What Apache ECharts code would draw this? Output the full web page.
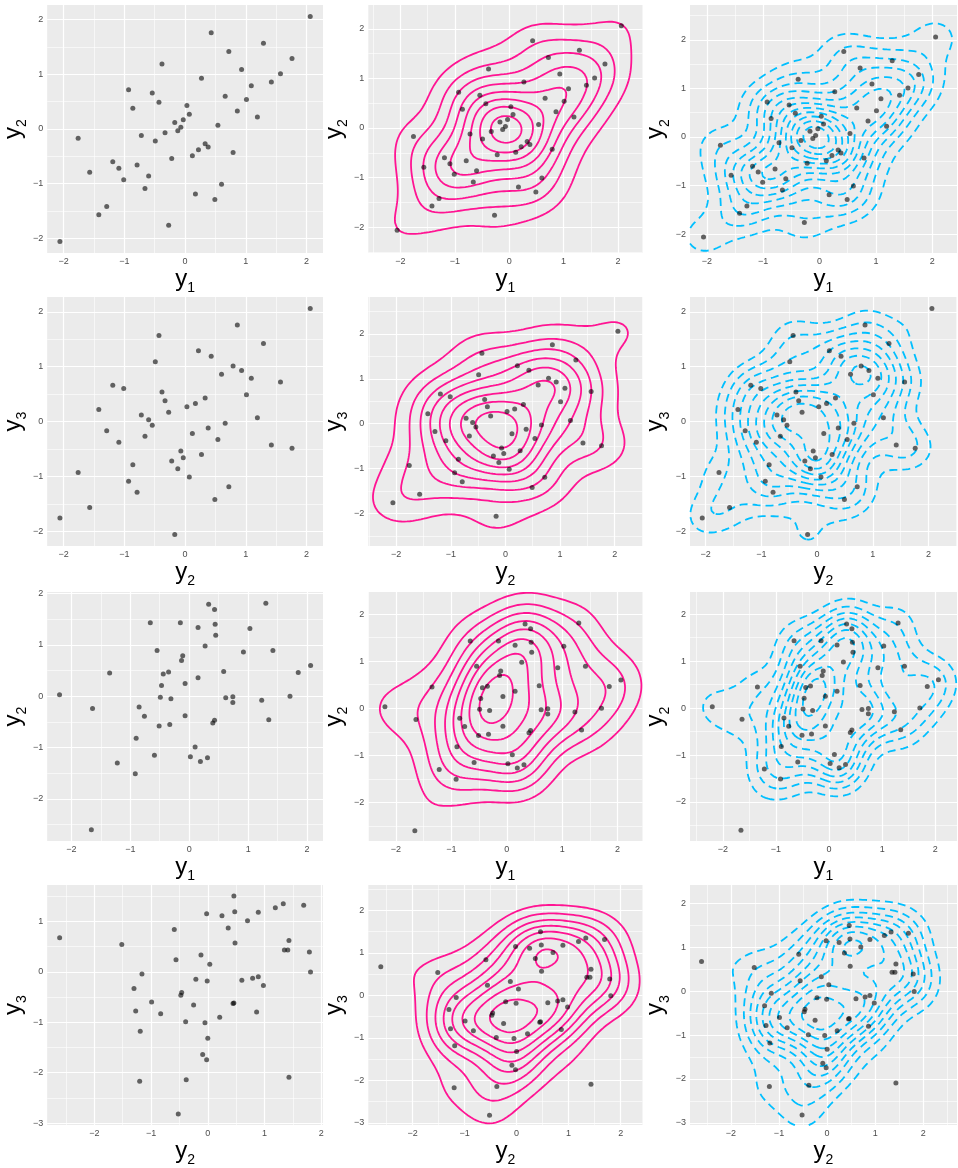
<!DOCTYPE html>
<html><head><meta charset="utf-8">
<script src="https://cdn.jsdelivr.net/npm/echarts@6/dist/echarts.min.js"></script>
<style>html,body{margin:0;padding:0;background:#fff}#c{width:958px;height:1168px}</style>
</head><body><div id="c"></div>
<script>
// ---- data ----
// row 1: normal scores, y1 vs y2
const r1x = [2.06,0.43,1.29,0.72,1.76,-0.38,0.93,1.57,0.27,1.42,1.09,-0.93,-0.54,0.66,1.01,-0.43,0.03,-0.86,0.86,0.07,1.19,-0.03,-0.17,0.54,-0.07,-0.12,-0.33,-0.72,-1.76,-0.49,0.33,0.38,0.22,0.79,0.12,-0.22,-1.19,-0.79,-1.09,-1.57,-0.60,-1.01,0.60,-0.66,0.17,-1.29,0.49,-1.42,-0.27,-2.06];
const r1y = [2.06,1.76,1.57,1.42,1.29,1.19,1.09,1.01,0.93,0.86,0.79,0.72,0.66,0.60,0.54,0.49,0.43,0.38,0.33,0.27,0.22,0.17,0.12,0.07,0.03,-0.03,-0.07,-0.12,-0.17,-0.22,-0.27,-0.33,-0.38,-0.43,-0.49,-0.54,-0.60,-0.66,-0.72,-0.79,-0.86,-0.93,-1.01,-1.09,-1.19,-1.42,-1.29,-1.57,-1.76,-2.06];
// row 2: normal scores, y2 vs y3
const r2x = [2.06,0.86,-0.43,1.29,0.22,0.43,-0.49,0.79,0.93,0.60,1.09,1.57,-1.19,-1.01,-0.38,1.01,0.33,-0.33,0.17,0.03,-1.42,-0.27,-0.72,1.19,-0.60,0.66,-0.54,0.38,-1.29,0.12,-0.66,0.54,-1.09,1.42,1.76,-0.07,0.27,-0.03,-0.22,-0.86,-0.12,-1.76,0.07,-0.93,0.72,-0.79,0.49,-1.57,-2.06,-0.17];
const r2y = [2.06,1.76,1.57,1.42,1.29,1.19,1.09,1.01,0.93,0.86,0.79,0.72,0.66,0.60,0.54,0.49,0.43,0.38,0.33,0.27,0.22,0.17,0.12,0.07,0.03,-0.03,-0.07,-0.12,-0.17,-0.22,-0.27,-0.33,-0.38,-0.43,-0.49,-0.54,-0.60,-0.66,-0.72,-0.79,-0.86,-0.93,-1.01,-1.09,-1.19,-1.29,-1.42,-1.57,-1.76,-2.06];
// row 3: raw data, y1 vs y2
const r3x = [-2.20,-1.64,-1.66,-1.35,-1.22,-0.915,-0.90,-0.85,-0.76,-0.66,-0.59,-0.545,-0.51,-0.49,-0.47,-0.44,-0.35,-0.33,-0.31,-0.15,-0.13,-0.11,-0.07,-0.07,0.02,0.10,0.15,0.15,0.19,0.27,0.31,0.33,0.40,0.43,0.43,0.44,0.45,0.585,0.62,0.74,0.74,0.92,1.03,1.23,1.30,1.35,1.42,1.71,1.85,2.06];
const r3y = [0.03,-0.24,-2.60,0.45,-1.30,-1.51,-0.82,-0.21,-0.39,1.43,-1.15,0.89,-0.58,-0.02,0.21,0.435,0.47,-0.55,-0.05,1.43,0.695,0.79,0.25,-0.38,-1.18,-0.99,0.36,1.34,-1.27,0.98,-1.20,1.79,-0.52,-0.47,1.69,1.40,1.19,0.48,-0.03,-0.12,-0.01,0.86,1.32,-0.08,1.81,-0.46,0.89,0.00,0.46,0.60];
// row 4: raw data, y2 vs y3
const r4x = [-2.61,-1.515,-1.30,-1.27,-1.19,-1.20,-1.16,-0.99,-0.83,-0.59,-0.56,-0.52,-0.475,-0.46,-0.39,-0.38,-0.25,-0.21,-0.12,-0.09,-0.05,-0.02,-0.02,-0.01,0.00,0.035,0.21,0.25,0.36,0.445,0.46,0.46,0.475,0.48,0.60,0.70,0.79,0.86,0.89,0.89,0.98,1.19,1.33,1.35,1.41,1.43,1.43,1.69,1.79,1.81];
const r4y = [0.675,0.54,-0.33,-0.78,-1.18,-2.17,-0.045,-0.60,-0.83,0.84,0.24,-2.82,-0.465,-0.41,-0.99,-2.14,-0.66,-0.15,0.33,-1.64,-1.01,1.15,-1.745,-0.185,-1.32,0.15,-0.90,1.11,0.87,-0.63,-0.62,1.50,1.19,0.57,-0.17,1.01,-0.13,-0.80,-0.10,1.18,-0.27,1.27,1.35,0.43,0.43,0.62,-2.09,1.32,0.39,-0.005];

const rowX = [r1x, r2x, r3x, r4x];
const rowY = [r1y, r2y, r3y, r4y];
const xNames = ['1','2','1','2'];
const yNames = ['2','3','2','3'];
const majorTicks = [-3,-2,-1,0,1,2];
const minorTicks = [-3.5,-2.5,-1.5,-0.5,0.5,1.5,2.5];

// axis limits per panel [row][col]
const xLims = [
  [[-2.27,2.27],[-2.59,2.45],[-2.30,2.44]],
  [[-2.27,2.27],[-2.51,2.51],[-2.28,2.51]],
  [[-2.41,2.27],[-2.50,2.45],[-2.62,2.41]],
  [[-2.83,2.03],[-2.85,2.42],[-2.85,2.70]]
];
const yLims = [
  [[-2.27,2.27],[-2.52,2.48],[-2.39,2.72]],
  [[-2.27,2.27],[-2.72,2.82],[-2.27,2.27]],
  [[-2.82,2.03],[-2.82,2.47],[-2.83,2.47]],
  [[-3.04,1.72],[-3.05,2.60],[-3.05,2.42]]
];

// ---- layout / style ----
const colsPx = [[47,323],[368.3,642.5],[690,957]];
const rowsPx = [[5,253],[297,546],[592,841],[885,1133]];
const FONT = 'Liberation Sans';
// contour estimator settings per [row][col]: bandwidth multiplier, number of levels, lowest level (fraction of peak)
const cAdjust = [[0,1.0,0.8],[0,1.0,0.8],[0,1.15,0.9],[0,1.0,0.9]];
const cLevels = [[0,8,11],[0,8,9],[0,8,9],[0,8,9]];
const cLow    = [[0,0.115,0.085],[0,0.10,0.15],[0,0.13,0.13],[0,0.14,0.13]];
const MIN_LOOP = 0.3; // drop contour pieces smaller than this (data units)

// ---- density + contours ----
function bw(v){
  const n=v.length, m=v.reduce((a,b)=>a+b,0)/n;
  const sd=Math.sqrt(v.reduce((a,b)=>a+(b-m)*(b-m),0)/(n-1));
  const s=[...v].sort((a,b)=>a-b);
  const q=p=>{const h=(n-1)*p, lo=Math.floor(h); return s[lo]+(h-lo)*((s[lo+1]??s[lo])-s[lo]);};
  const iqr=q(0.75)-q(0.25);
  return 1.06*Math.min(sd, iqr/1.34)*Math.pow(n,-0.2);
}
function kdeGrid(px,py,hx,hy,xl,yl,N){
  const xs=[],ys=[]; for(let i=0;i<N;i++){xs.push(xl[0]+(xl[1]-xl[0])*i/(N-1)); ys.push(yl[0]+(yl[1]-yl[0])*i/(N-1));}
  const z=new Float64Array(N*N); const n=px.length; const c=1/(2*Math.PI*hx*hy*n);
  const ex=[]; for(let k=0;k<n;k++){const a=new Float64Array(N); for(let i=0;i<N;i++){const d=(xs[i]-px[k])/hx; a[i]=Math.exp(-0.5*d*d);} ex.push(a);}
  const ey=[]; for(let k=0;k<n;k++){const a=new Float64Array(N); for(let j=0;j<N;j++){const d=(ys[j]-py[k])/hy; a[j]=Math.exp(-0.5*d*d);} ey.push(a);}
  for(let j=0;j<N;j++) for(let i=0;i<N;i++){let s=0; for(let k=0;k<n;k++) s+=ex[k][i]*ey[k][j]; z[j*N+i]=s*c;}
  return {xs,ys,z,N};
}
function contour(g, level){
  const {xs,ys,z,N}=g; const segs=[]; const pts={};
  const val=(i,j)=>z[j*N+i];
  const ptH=(i,j)=>{const k='h'+i+'_'+j; if(!pts[k]){const a=val(i,j),b=val(i+1,j),t=(level-a)/(b-a); pts[k]=[xs[i]+t*(xs[i+1]-xs[i]), ys[j]];} return k;};
  const ptV=(i,j)=>{const k='v'+i+'_'+j; if(!pts[k]){const a=val(i,j),b=val(i,j+1),t=(level-a)/(b-a); pts[k]=[xs[i], ys[j]+t*(ys[j+1]-ys[j])];} return k;};
  for(let j=0;j<N-1;j++) for(let i=0;i<N-1;i++){
    const v=[val(i,j),val(i+1,j),val(i+1,j+1),val(i,j+1)];
    const hi=v.map(a=>a>=level);
    const ek=[()=>ptH(i,j),()=>ptV(i+1,j),()=>ptH(i,j+1),()=>ptV(i,j)];
    const cross=[hi[0]!==hi[1],hi[1]!==hi[2],hi[2]!==hi[3],hi[3]!==hi[0]];
    const cnt=cross.filter(Boolean).length;
    if(cnt===2){ const idx=[]; cross.forEach((c,q)=>{if(c) idx.push(q);}); segs.push([ek[idx[0]](),ek[idx[1]]()]); }
    else if(cnt===4){
      const center=(v[0]+v[1]+v[2]+v[3])/4>=level;
      const cornerEdges=[[3,0],[0,1],[1,2],[2,3]];
      for(let q=0;q<4;q++){ if(hi[q]!==center){ segs.push([ek[cornerEdges[q][0]](),ek[cornerEdges[q][1]]()]); } }
    }
  }
  const adj=new Map();
  segs.forEach((s,idx)=>{ for(const k of s){ if(!adj.has(k)) adj.set(k,[]); adj.get(k).push(idx);} });
  const used=new Array(segs.length).fill(false); const lines=[];
  const walk=(startIdx,startKey)=>{
    const line=[pts[startKey]]; let idx=startIdx, key=startKey;
    while(idx!==undefined && !used[idx]){
      used[idx]=true; const s=segs[idx]; const nx=s[0]===key?s[1]:s[0];
      line.push(pts[nx]); key=nx; idx=adj.get(key).find(t=>!used[t]);
    }
    return line;
  };
  for(const [k,l] of adj){ if(l.length===1 && !used[l[0]]) lines.push(walk(l[0],k)); }
  segs.forEach((s,idx)=>{ if(!used[idx]) lines.push(walk(idx,s[0])); });
  return lines.filter(line=>{
    let x0=Infinity,x1=-Infinity,y0=Infinity,y1=-Infinity;
    for(const p of line){x0=Math.min(x0,p[0]);x1=Math.max(x1,p[0]);y0=Math.min(y0,p[1]);y1=Math.max(y1,p[1]);}
    return (x1-x0)>=MIN_LOOP || (y1-y0)>=MIN_LOOP;
  });
}

// ---- build chart ----
const grids=[], xAxes=[], yAxes=[], series=[];
const fmt=v=>(v<0?'\u2212':'')+Math.abs(v);
const richName=()=>({a:{fontSize:24,fontFamily:FONT,color:'#000',verticalAlign:'top',lineHeight:26},b:{fontSize:14,fontFamily:FONT,color:'#000',verticalAlign:'top',lineHeight:14,padding:[14,0,0,0]}});
const colStyle=[null,{color:'#FF1493',type:'solid'},{color:'#00BFFF',type:[8,5]}];

for(let r=0;r<4;r++) for(let c=0;c<3;c++){
  const gi=grids.length;
  const [L,R]=colsPx[c], [T,B]=rowsPx[r];
  grids.push({left:L,top:T,width:R-L,height:B-T,show:true,backgroundColor:'#EBEBEB',borderWidth:0,containLabel:false});
  const xl=xLims[r][c], yl=yLims[r][c];
  const inR=(a,l)=>a.filter(v=>v>=l[0]&&v<=l[1]);
  const common={gridIndex:gi,type:'value',axisLine:{show:false},splitLine:{show:false},
    axisTick:{show:true,length:3,lineStyle:{color:'#333333',width:1}},
    nameLocation:'middle',nameTextStyle:{fontFamily:FONT}};
  xAxes.push(Object.assign({},common,{min:xl[0],max:xl[1],
    axisTick:Object.assign({},common.axisTick,{customValues:inR(majorTicks,xl)}),
    axisLabel:{customValues:inR(majorTicks,xl),formatter:fmt,fontSize:9,color:'#4D4D4D',fontFamily:FONT,margin:4},
    name:'{a|y}{b|'+xNames[r]+'}',nameGap:4,nameTextStyle:{fontFamily:FONT,rich:richName()}}));
  yAxes.push(Object.assign({},common,{min:yl[0],max:yl[1],
    axisTick:Object.assign({},common.axisTick,{customValues:inR(majorTicks,yl)}),
    axisLabel:{customValues:inR(majorTicks,yl),formatter:fmt,fontSize:9,color:'#4D4D4D',fontFamily:FONT,margin:4},
    name:'{a|y}{b|'+yNames[r]+'}',nameRotate:90,nameGap:17,nameTextStyle:{fontFamily:FONT,rich:richName()}}));
  // panel grid lines
  const ml=[];
  inR(minorTicks,xl).forEach(v=>ml.push({xAxis:v,lineStyle:{color:'#FFFFFF',width:0.6,type:'solid'}}));
  inR(minorTicks,yl).forEach(v=>ml.push({yAxis:v,lineStyle:{color:'#FFFFFF',width:0.6,type:'solid'}}));
  inR(majorTicks,xl).forEach(v=>ml.push({xAxis:v,lineStyle:{color:'#FFFFFF',width:1.2,type:'solid'}}));
  inR(majorTicks,yl).forEach(v=>ml.push({yAxis:v,lineStyle:{color:'#FFFFFF',width:1.2,type:'solid'}}));
  series.push({type:'line',xAxisIndex:gi,yAxisIndex:gi,data:[],z:1,silent:true,
    markLine:{z:1,silent:true,symbol:['none','none'],label:{show:false},animation:false,data:ml}});
  // contours
  const cs=colStyle[c];
  if(cs){
    const px=rowX[r], py=rowY[r];
    const hx=bw(px)*cAdjust[r][c], hy=bw(py)*cAdjust[r][c];
    const g=kdeGrid(px,py,hx,hy,xl,yl,100);
    let zmax=0; for(const v of g.z) zmax=Math.max(zmax,v);
    const k=cLevels[r][c], lo=cLow[r][c], hi=0.93;
    for(let i=0;i<k;i++){
      const lv=zmax*(lo+(hi-lo)*i/(k-1));
      for(const line of contour(g,lv)){
        series.push({type:'line',xAxisIndex:gi,yAxisIndex:gi,data:line,showSymbol:false,symbol:'none',
          silent:true,z:3,lineStyle:{color:cs.color,width:1.8,type:cs.type}});
      }
    }
  }
  series.push({type:'scatter',xAxisIndex:gi,yAxisIndex:gi,z:4,silent:true,symbolSize:5,
    itemStyle:{color:'rgba(0,0,0,0.74)'},data:rowX[r].map((v,k)=>[v,rowY[r][k]])});
}

const chart=echarts.init(document.getElementById('c'),null,{renderer:'canvas'});
chart.setOption({animation:false,grid:grids,xAxis:xAxes,yAxis:yAxes,series:series});
</script></body></html>
